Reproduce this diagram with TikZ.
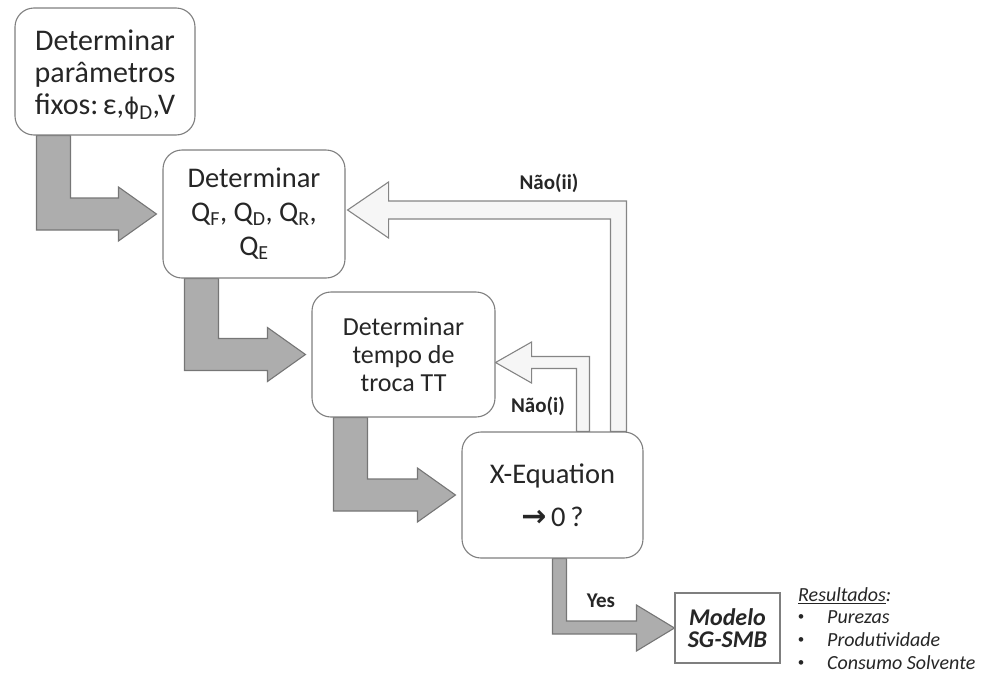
\documentclass[tikz,border=0pt]{standalone}
\usepackage{fontspec}
\setmainfont{Carlito}
\newfontfamily\symfont{DejaVu Sans}
\usetikzlibrary{calc,backgrounds}

\definecolor{txt}{HTML}{262626}
\definecolor{boxline}{HTML}{7F7F7F}
\definecolor{blockfill}{HTML}{ADADAD}
\definecolor{blockline}{HTML}{767676}
\definecolor{backfill}{HTML}{F6F6F6}
\definecolor{backline}{HTML}{858585}

\newcommand{\lowsub}[1]{\textsubscript{#1}}

% L-shaped grey block arrow: down out of #1, then right into the west side of #2
\newcommand{\stepblock}[2]{%
  \path[greyblock] let \p1=(#1.south west), \p2=(#2.west) in
    (\x1+22pt,\y1) -- (\x1+56pt,\y1) -- (\x1+56pt,\y2+16pt)
    -- (\x2-44pt,\y2+16pt) -- (\x2-44pt,\y2+27pt) -- (\x2-6pt,\y2)
    -- (\x2-44pt,\y2-27pt) -- (\x2-44pt,\y2-16pt) -- (\x1+22pt,\y2-16pt) -- cycle;
}

\begin{document}
\begin{tikzpicture}[x=1pt,y=-1pt,
  stepbox/.style={draw=boxline,line width=1.1pt,fill=white,rounded corners=19pt,
    inner sep=0pt,align=center,text=txt},
  resultbox/.style={draw=boxline,line width=1.1pt,fill=white,inner sep=0pt,
    align=center,text=txt},
  greyblock/.style={fill=blockfill,draw=blockline,line width=1.1pt,line join=miter},
  backblock/.style={fill=backfill,draw=backline,line width=1.1pt,line join=miter},
  lbl/.style={text=txt,font=\fontsize{21}{24}\selectfont\bfseries,inner sep=0pt},
  itemtxt/.style={text=txt,font=\fontsize{20}{24}\selectfont\itshape,inner sep=0pt,anchor=west},
  dot/.style={text=txt,font=\fontsize{13}{14}\selectfont,inner sep=0pt}]

\useasboundingbox (0,0) rectangle (987,675);

% process boxes
\node[stepbox,minimum width=180pt,minimum height=127pt,
  font=\fontsize{30}{32}\selectfont] (b1) at (105,71.5)
  {\rule{0pt}{27pt}Determinar\\parâmetros\\fixos:\hspace{0.15em}ε,{\symfont\fontsize{23}{32}\selectfont ϕ}\lowsub{D},V};
\node[stepbox,minimum width=182pt,minimum height=128pt,
  font=\fontsize{28.5}{34}\selectfont] (b2) at (254,214)
  {Determinar\\Q\lowsub{F}, Q\lowsub{D}, Q\lowsub{R},\\Q\lowsub{E}};
\node[stepbox,minimum width=183pt,minimum height=125pt,
  font=\fontsize{26}{28}\selectfont] (b3) at (403.5,354.5)
  {Determinar\\tempo de\\troca TT};
\node[stepbox,minimum width=181pt,minimum height=126pt,
  font=\fontsize{28.5}{43}\selectfont] (b4) at (552.5,495)
  {X-Equation\\{\symfont\fontsize{30}{30}\selectfont\bfseries →}\,0\,?};
\node[resultbox,minimum width=105pt,minimum height=70pt,
  font=\fontsize{24}{22}\selectfont\bfseries\itshape] (b5) at (727.5,628)
  {Modelo\\SG-SMB};

\begin{scope}[on background layer]
  % forward grey arrows
  \stepblock{b1}{b2}
  \stepblock{b2}{b3}
  \stepblock{b3}{b4}
  % Yes arrow
  \path[greyblock] let \p1=(b4.south west), \p2=(b5.west) in
    (\x1+91pt,\y1) -- (\x1+105pt,\y1) -- (\x1+105pt,\y2+7pt)
    -- (\x2-38pt,\y2+7pt) -- (\x2-38pt,\y2+23pt) -- (\x2,\y2)
    -- (\x2-38pt,\y2-23pt) -- (\x2-38pt,\y2-6pt) -- (\x1+91pt,\y2-6pt) -- cycle;
  % feedback Não(ii): from X-Equation back to the flow-rate box
  \path[backblock] let \p1=(b4.north west), \p2=(b2.east) in
    (\x1+149pt,\y1) -- (\x1+149pt,\y2-5pt) -- (\x2+43pt,\y2-5pt)
    -- (\x2+43pt,\y2-24pt) -- (\x2+2pt,\y2+4pt) -- (\x2+43pt,\y2+32pt)
    -- (\x2+43pt,\y2+13pt) -- (\x1+165pt,\y2+13pt) -- (\x1+165pt,\y1) -- cycle;
  % feedback Não(i): from X-Equation back to the switching-time box
  \path[backblock] let \p1=(b4.north west), \p2=(b3.east) in
    (\x1+115pt,\y1) -- (\x1+115pt,\y2-14pt) -- (\x2+36pt,\y2-14pt)
    -- (\x2+36pt,\y2-28.5pt) -- (\x2,\y2-8pt) -- (\x2+36pt,\y2+12.5pt)
    -- (\x2+36pt,\y2-2pt) -- (\x1+128pt,\y2-2pt) -- (\x1+128pt,\y1) -- cycle;
\end{scope}

% connector labels
\node[lbl] (lii) at (549,183) {Não(ii)};
\node[lbl] (li) at (538,406) {Não(i)};
\node[lbl] (lyes) at (601,601) {Yes};

% results list
\node[itemtxt] (res) at (798,596) {\underline{Resultados}:};
\node[dot] (d1) at (801,618) {•};
\node[dot] (d2) at (801,641) {•};
\node[dot] (d3) at (801,664) {•};
\node[itemtxt] (r1) at (827,617) {Purezas};
\node[itemtxt] (r2) at (827,640) {Produtividade};
\node[itemtxt] (r3) at (827,663) {Consumo Solvente};
\end{tikzpicture}
\end{document}
